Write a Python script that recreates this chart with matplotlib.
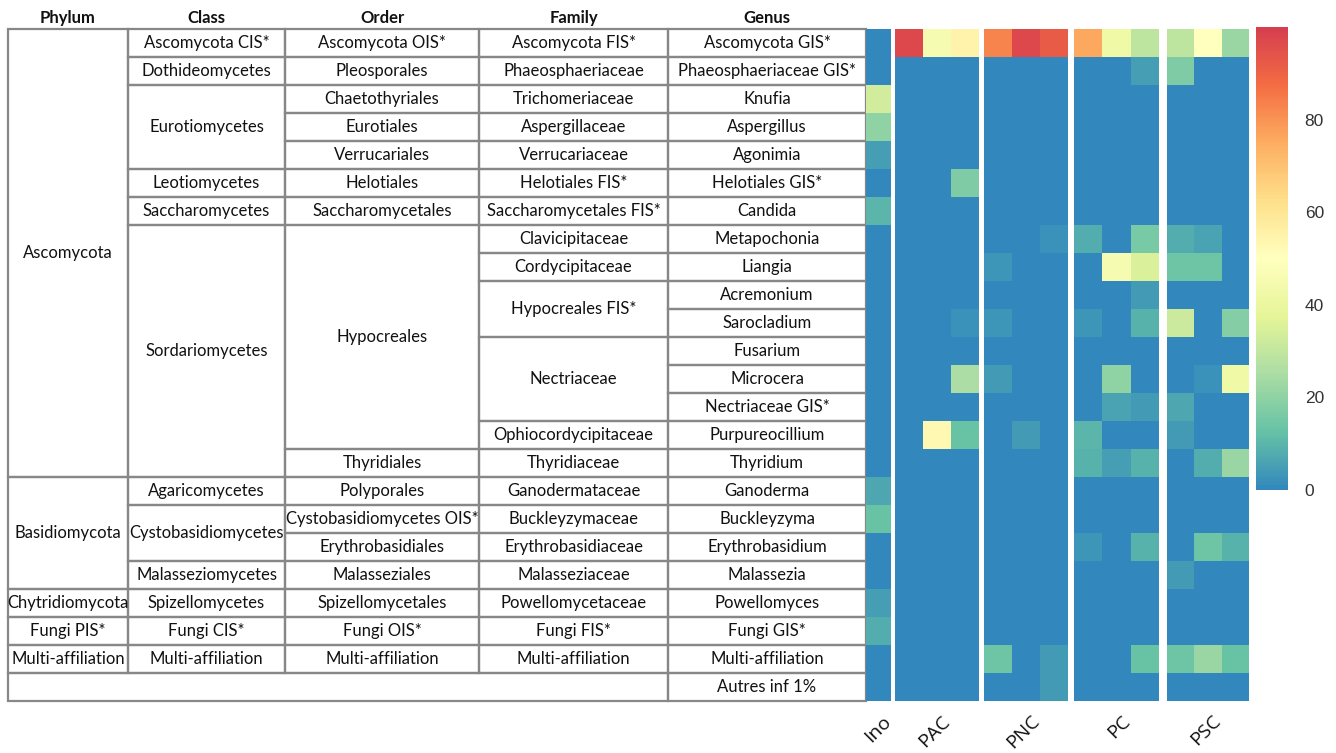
import matplotlib.pyplot as plt
from matplotlib.colors import LinearSegmentedColormap
from matplotlib.patches import Rectangle
from matplotlib.cm import ScalarMappable
from matplotlib.colors import Normalize

W, H = 1336, 753
plt.rcParams['font.family'] = ['Lato', 'DejaVu Sans']

# ------------------------------------------------------
# Taxonomy (label, number of rows spanned)
# ------------------------------------------------------
phylum = [("Ascomycota", 16), ("Basidiomycota", 4), ("Chytridiomycota", 1),
          ("Fungi PIS*", 1), ("Multi-affiliation", 1)]
classes = [("Ascomycota CIS*", 1), ("Dothideomycetes", 1), ("Eurotiomycetes", 3),
           ("Leotiomycetes", 1), ("Saccharomycetes", 1), ("Sordariomycetes", 9),
           ("Agaricomycetes", 1), ("Cystobasidiomycetes", 2), ("Malasseziomycetes", 1),
           ("Spizellomycetes", 1), ("Fungi CIS*", 1), ("Multi-affiliation", 1)]
orders = [("Ascomycota OIS*", 1), ("Pleosporales", 1), ("Chaetothyriales", 1),
          ("Eurotiales", 1), ("Verrucariales", 1), ("Helotiales", 1),
          ("Saccharomycetales", 1), ("Hypocreales", 8), ("Thyridiales", 1),
          ("Polyporales", 1), ("Cystobasidiomycetes OIS*", 1), ("Erythrobasidiales", 1),
          ("Malasseziales", 1), ("Spizellomycetales", 1), ("Fungi OIS*", 1),
          ("Multi-affiliation", 1)]
families = [("Ascomycota FIS*", 1), ("Phaeosphaeriaceae", 1), ("Trichomeriaceae", 1),
            ("Aspergillaceae", 1), ("Verrucariaceae", 1), ("Helotiales FIS*", 1),
            ("Saccharomycetales FIS*", 1), ("Clavicipitaceae", 1), ("Cordycipitaceae", 1),
            ("Hypocreales FIS*", 2), ("Nectriaceae", 3), ("Ophiocordycipitaceae", 1),
            ("Thyridiaceae", 1), ("Ganodermataceae", 1), ("Buckleyzymaceae", 1),
            ("Erythrobasidiaceae", 1), ("Malasseziaceae", 1), ("Powellomycetaceae", 1),
            ("Fungi FIS*", 1), ("Multi-affiliation", 1)]
genus = ["Ascomycota GIS*", "Phaeosphaeriaceae GIS*", "Knufia", "Aspergillus", "Agonimia",
         "Helotiales GIS*", "Candida", "Metapochonia", "Liangia", "Acremonium",
         "Sarocladium", "Fusarium", "Microcera", "Nectriaceae GIS*", "Purpureocillium",
         "Thyridium", "Ganoderma", "Buckleyzyma", "Erythrobasidium", "Malassezia",
         "Powellomyces", "Fungi GIS*", "Multi-affiliation", "Autres inf 1%"]
headers = ["Phylum", "Class", "Order", "Family", "Genus"]

# ------------------------------------------------------
# Abundances (%), one row per genus
# ------------------------------------------------------
ino = [0, 0, 33, 20, 5, 0, 10, 0, 0, 0, 0, 0, 0, 0, 0, 0, 7, 13, 0, 0, 5, 8, 0, 0]
pac = [[97, 45, 55], [0, 0, 0], [0, 0, 0], [0, 0, 0], [0, 0, 0], [0, 0, 17],
       [0, 0, 0], [0, 0, 0], [0, 0, 0], [0, 0, 0], [0, 0, 2], [0, 0, 0],
       [0, 0, 25], [0, 0, 0], [0, 53, 13], [0, 0, 0], [0, 0, 0], [0, 0, 0],
       [0, 0, 0], [0, 0, 0], [0, 0, 0], [0, 0, 0], [0, 0, 0], [0, 0, 0]]
pnc = [[83, 97, 92], [0, 0, 0], [0, 0, 0], [0, 0, 0], [0, 0, 0], [0, 0, 0],
       [0, 0, 0], [0, 0, 2], [3, 0, 0], [0, 0, 0], [3, 0, 0], [0, 0, 0],
       [4, 0, 0], [0, 0, 0], [0, 4, 0], [0, 0, 0], [0, 0, 0], [0, 0, 0],
       [0, 0, 0], [0, 0, 0], [0, 0, 0], [0, 0, 0], [14, 0, 4], [0, 0, 4]]
pc = [[76, 42, 29], [0, 0, 5], [0, 0, 0], [0, 0, 0], [0, 0, 0], [0, 0, 0],
      [0, 0, 0], [8, 0, 16], [0, 45, 35], [0, 0, 4], [3, 0, 9], [0, 0, 0],
      [0, 20, 0], [0, 6, 4], [10, 0, 0], [9, 5, 9], [0, 0, 0], [0, 0, 0],
      [3, 0, 9], [0, 0, 0], [0, 0, 0], [0, 0, 0], [0, 0, 13], [0, 0, 0]]
psc = [[29, 50, 22], [17, 0, 0], [0, 0, 0], [0, 0, 0], [0, 0, 0], [0, 0, 0],
       [0, 0, 0], [8, 6, 0], [14, 14, 0], [0, 0, 0], [32, 0, 18], [0, 0, 0],
       [0, 2, 42], [7, 0, 0], [4, 0, 0], [0, 8, 22], [0, 0, 0], [0, 0, 0],
       [0, 14, 9], [4, 0, 0], [0, 0, 0], [0, 0, 0], [14, 22, 13], [0, 0, 0]]
groups = [("Ino", [[v] for v in ino]), ("PAC", pac), ("PNC", pnc), ("PC", pc), ("PSC", psc)]

spectral = ["#3288BD", "#66C2A5", "#ABDDA4", "#E6F598", "#FFFFBF",
            "#FEE08B", "#FDAE61", "#F46D43", "#D53E4F"]
cmap = LinearSegmentedColormap.from_list("spec", spectral)
norm = Normalize(0, 100)

fig = plt.figure(figsize=(W / 100, H / 100), dpi=100)

def box(x0, y0, x1, y1):
    return [x0 / W, 1 - y1 / H, (x1 - x0) / W, (y1 - y0) / H]

nrow = len(genus)
top, bottom = 29, 701

# ------------------------------------------------------
# Table
# ------------------------------------------------------
col_x = [8, 128, 285, 479, 668, 866]
ax_t = fig.add_axes(box(col_x[0], top, col_x[-1], bottom))
ax_t.set_xlim(col_x[0], col_x[-1])
ax_t.set_ylim(nrow, 0)
ax_t.axis("off")

line_c = "#878787"
fsize = 12

def draw_cell(x0, x1, r0, r1, label):
    ax_t.add_patch(Rectangle((x0, r0), x1 - x0, r1 - r0, fill=False,
                             edgecolor=line_c, lw=1.6, clip_on=False))
    if label:
        ax_t.text((x0 + x1) / 2, (r0 + r1) / 2, label, ha="center", va="center",
                  fontsize=fsize, color="#111111")

for c, spans in enumerate([phylum, classes, orders, families]):
    r = 0
    for label, n in spans:
        draw_cell(col_x[c], col_x[c + 1], r, r + n, label)
        r += n
for r, label in enumerate(genus):
    draw_cell(col_x[4], col_x[5], r, r + 1, label)
# last row merged over Phylum..Family
draw_cell(col_x[0], col_x[4], nrow - 1, nrow, "")

for c, h in enumerate(headers):
    ax_t.text((col_x[c] + col_x[c + 1]) / 2, -0.4, h, ha="center", va="center",
              fontsize=12, fontweight="bold", color="#111111")

# ------------------------------------------------------
# Heatmap
# ------------------------------------------------------
group_x = [(866, 891), (895, 979), (984, 1068), (1074, 1159), (1167, 1249)]
for (name, vals), (x0, x1) in zip(groups, group_x):
    ax = fig.add_axes(box(x0, top, x1, bottom))
    ax.pcolormesh(vals, cmap=cmap, norm=norm)
    ax.set_ylim(nrow, 0)
    ax.set_yticks([])
    ax.set_xticks([len(vals[0]) / 2 + 0.15])
    ax.set_xticklabels([name], rotation=45, ha="right", va="top",
                       rotation_mode="anchor", fontsize=14, color="#111111",
                       family=["Open Sans", "DejaVu Sans"])
    ax.tick_params(length=0, pad=8)
    for s in ax.spines.values():
        s.set_visible(False)

# ------------------------------------------------------
# Colorbar
# ------------------------------------------------------
cax = fig.add_axes(box(1256, 27, 1288, 490))
cb = fig.colorbar(ScalarMappable(norm=norm, cmap=cmap), cax=cax)
cb.outline.set_visible(False)
cb.set_ticks([0, 20, 40, 60, 80])
cax.tick_params(length=0, pad=12, labelsize=12.5, labelcolor="#333333")
for t in cax.get_yticklabels():
    t.set_family(["Liberation Sans", "DejaVu Sans"])

fig.savefig("out.png", dpi=100)
